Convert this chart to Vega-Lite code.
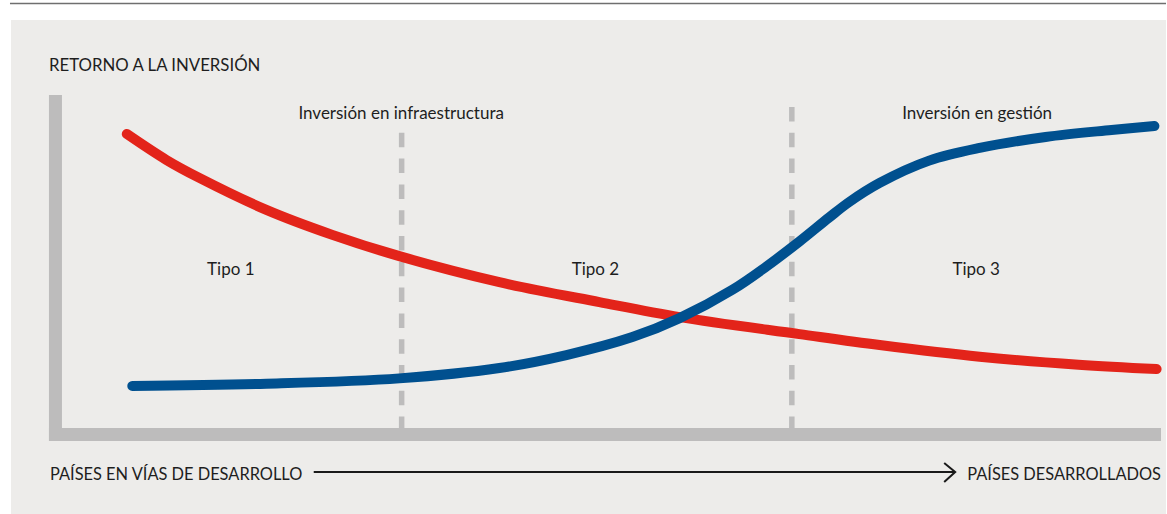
{
  "$schema": "https://vega.github.io/schema/vega-lite/v6.json",
  "autosize": {"type": "fit", "contains": "padding"},
  "width": 1167,
  "height": 514,
  "padding": 0,
  "background": "#ffffff",
  "config": {"view": {"stroke": null}},
  "datasets": {
    "curvas": [
      {"serie": "infraestructura", "desarrollo": 5.9, "retorno": 88.3},
      {"serie": "infraestructura", "desarrollo": 9.5, "retorno": 80.5},
      {"serie": "infraestructura", "desarrollo": 12.5, "retorno": 75.1},
      {"serie": "infraestructura", "desarrollo": 18.6, "retorno": 65.5},
      {"serie": "infraestructura", "desarrollo": 24.6, "retorno": 58.0},
      {"serie": "infraestructura", "desarrollo": 30.7, "retorno": 51.6},
      {"serie": "infraestructura", "desarrollo": 39.8, "retorno": 43.8},
      {"serie": "infraestructura", "desarrollo": 48.9, "retorno": 37.8},
      {"serie": "infraestructura", "desarrollo": 56.2, "retorno": 33.3},
      {"serie": "infraestructura", "desarrollo": 67.1, "retorno": 28.2},
      {"serie": "infraestructura", "desarrollo": 74.4, "retorno": 24.9},
      {"serie": "infraestructura", "desarrollo": 83.5, "retorno": 21.4},
      {"serie": "infraestructura", "desarrollo": 92.5, "retorno": 19.0},
      {"serie": "infraestructura", "desarrollo": 99.6, "retorno": 17.7},
      {"serie": "gestion", "desarrollo": 6.4, "retorno": 12.6},
      {"serie": "gestion", "desarrollo": 18.6, "retorno": 13.3},
      {"serie": "gestion", "desarrollo": 30.7, "retorno": 14.9},
      {"serie": "gestion", "desarrollo": 39.8, "retorno": 18.0},
      {"serie": "gestion", "desarrollo": 45.9, "retorno": 21.9},
      {"serie": "gestion", "desarrollo": 51.9, "retorno": 27.3},
      {"serie": "gestion", "desarrollo": 56.2, "retorno": 33.0},
      {"serie": "gestion", "desarrollo": 61.0, "retorno": 41.5},
      {"serie": "gestion", "desarrollo": 64.1, "retorno": 48.5},
      {"serie": "gestion", "desarrollo": 67.1, "retorno": 56.0},
      {"serie": "gestion", "desarrollo": 69.8, "retorno": 63.2},
      {"serie": "gestion", "desarrollo": 71.6, "retorno": 67.8},
      {"serie": "gestion", "desarrollo": 74.4, "retorno": 73.6},
      {"serie": "gestion", "desarrollo": 78.9, "retorno": 80.3},
      {"serie": "gestion", "desarrollo": 83.5, "retorno": 84.1},
      {"serie": "gestion", "desarrollo": 89.5, "retorno": 87.4},
      {"serie": "gestion", "desarrollo": 95.5, "retorno": 89.5},
      {"serie": "gestion", "desarrollo": 99.4, "retorno": 90.7}
    ]
  },
  "encoding": {
    "x": {"type": "quantitative", "scale": {"domain": [-5.636, 100.4545], "nice": false, "zero": false}, "axis": null},
    "y": {"type": "quantitative", "scale": {"domain": [-25.826, 128.529], "nice": false, "zero": false}, "axis": null}
  },
  "layer": [
    {
      "data": {"values": [{"x0": -4.727, "x1": 100.4545, "y": 127.48}]},
      "mark": {"type": "rule", "color": "#6f6f6f", "strokeWidth": 1.5},
      "encoding": {"x": {"field": "x0"}, "x2": {"field": "x1"}, "y": {"field": "y"}}
    },
    {
      "data": {"values": [{"x0": -4.636, "x1": 100.4545, "y0": 122.52, "y1": -25.826}]},
      "mark": {"type": "rect", "color": "#edecea"},
      "encoding": {"x": {"field": "x0"}, "x2": {"field": "x1"}, "y": {"field": "y0"}, "y2": {"field": "y1"}}
    },
    {
      "data": {"values": [
        {"x0": -1.182, "x1": 0, "y0": 100, "y1": -3.904},
        {"x0": -1.182, "x1": 100, "y0": 0, "y1": -3.904}
      ]},
      "mark": {"type": "rect", "color": "#bdbcbc"},
      "encoding": {"x": {"field": "x0"}, "x2": {"field": "x1"}, "y": {"field": "y0"}, "y2": {"field": "y1"}}
    },
    {
      "data": {"values": [
        {"x": 30.909, "arriba": 88.65, "abajo": 0},
        {"x": 66.41, "arriba": 96.4, "abajo": 0}
      ]},
      "mark": {"type": "rule", "color": "#bdbcbc", "strokeWidth": 5.5, "strokeDash": [14.5, 11.3], "strokeCap": "butt"},
      "encoding": {"x": {"field": "x"}, "y": {"field": "arriba"}, "y2": {"field": "abajo"}}
    },
    {
      "data": {"name": "curvas"},
      "transform": [{"filter": "datum.serie === 'infraestructura'"}],
      "mark": {"type": "line", "color": "#e3241a", "strokeWidth": 10, "strokeCap": "round", "strokeJoin": "round", "interpolate": "catmull-rom"},
      "encoding": {"x": {"field": "desarrollo"}, "y": {"field": "retorno"}}
    },
    {
      "data": {"name": "curvas"},
      "transform": [{"filter": "datum.serie === 'gestion'"}],
      "mark": {"type": "line", "color": "#00508f", "strokeWidth": 10, "strokeCap": "round", "strokeJoin": "round", "interpolate": "catmull-rom"},
      "encoding": {"x": {"field": "desarrollo"}, "y": {"field": "retorno"}}
    },
    {
      "data": {"values": [{"x0": 22.909, "x1": 81.182, "y": -13.21}]},
      "mark": {"type": "rule", "color": "#1a1a1a", "strokeWidth": 2},
      "encoding": {"x": {"field": "x0"}, "x2": {"field": "x1"}, "y": {"field": "y"}}
    },
    {
      "data": {"values": [
        {"k": 1, "x": 80.273, "y": -10.51},
        {"k": 2, "x": 81.273, "y": -13.21},
        {"k": 3, "x": 80.273, "y": -16.22}
      ]},
      "mark": {"type": "line", "color": "#1a1a1a", "strokeWidth": 2, "strokeJoin": "miter"},
      "encoding": {"x": {"field": "x"}, "y": {"field": "y"}, "order": {"field": "k"}}
    },
    {
      "data": {"values": [
        {"texto": "RETORNO A LA INVERSIÓN", "x": -1.182, "y": 107.21}
      ]},
      "mark": {"type": "text", "align": "left", "baseline": "alphabetic", "font": "Lato", "fontSize": 16.8, "color": "#1e1e1e"},
      "encoding": {"x": {"field": "x"}, "y": {"field": "y"}, "text": {"field": "texto"}}
    },
    {
      "data": {"values": [
        {"texto": "PAÍSES EN VÍAS DE DESARROLLO", "x": -1.091, "y": -15.62}
      ]},
      "mark": {"type": "text", "align": "left", "baseline": "alphabetic", "font": "Lato", "fontSize": 16.4, "color": "#1e1e1e"},
      "encoding": {"x": {"field": "x"}, "y": {"field": "y"}, "text": {"field": "texto"}}
    },
    {
      "data": {"values": [
        {"texto": "PAÍSES DESARROLLADOS", "x": 100, "y": -15.62}
      ]},
      "mark": {"type": "text", "align": "right", "baseline": "alphabetic", "font": "Lato", "fontSize": 16.4, "color": "#1e1e1e"},
      "encoding": {"x": {"field": "x"}, "y": {"field": "y"}, "text": {"field": "texto"}}
    },
    {
      "data": {"values": [
        {"texto": "Inversión en infraestructura", "x": 30.864, "y": 92.79},
        {"texto": "Inversión en gestión", "x": 83.27, "y": 92.79},
        {"texto": "Tipo 1", "x": 15.364, "y": 45.95},
        {"texto": "Tipo 2", "x": 48.545, "y": 45.95},
        {"texto": "Tipo 3", "x": 83.18, "y": 45.95}
      ]},
      "mark": {"type": "text", "align": "center", "baseline": "alphabetic", "font": "Lato", "fontSize": 17, "color": "#1e1e1e"},
      "encoding": {"x": {"field": "x"}, "y": {"field": "y"}, "text": {"field": "texto"}}
    }
  ]
}
